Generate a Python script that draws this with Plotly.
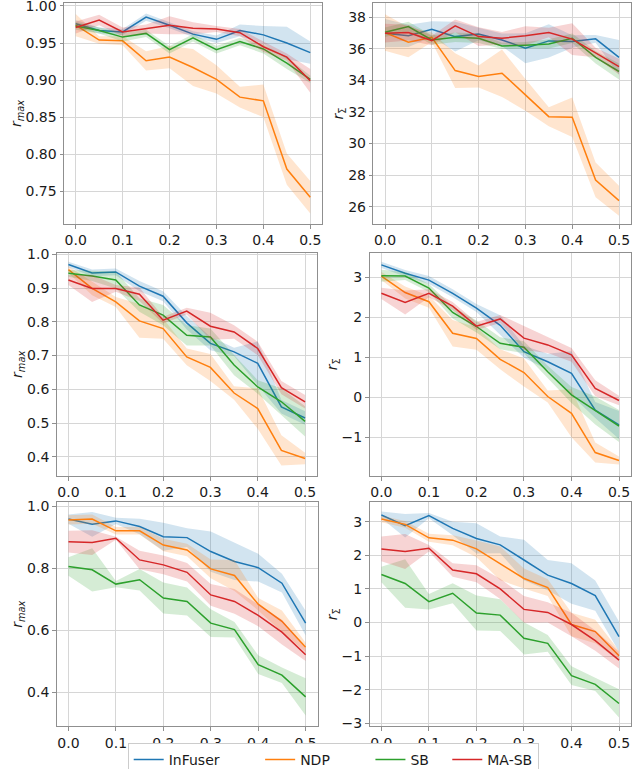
import plotly.graph_objects as go

X = [0.0, 0.05, 0.1, 0.15, 0.2, 0.25, 0.3, 0.35, 0.4, 0.45, 0.5]
SERIES = ["InFuser", "NDP", "SB", "MA-SB"]
COLORS = ["#1f77b4", "#ff7f0e", "#2ca02c", "#d62728"]
BANDS = ["rgba(31,119,180,0.2)", "rgba(255,127,14,0.2)", "rgba(44,160,44,0.2)", "rgba(214,39,40,0.2)"]
XTICKS = [0.0, 0.1, 0.2, 0.3, 0.4, 0.5]

# Panel A (row 1, left) r_max
A_INFUSER = [0.976, 0.967, 0.965, 0.985, 0.974, 0.962, 0.955, 0.967, 0.961, 0.950, 0.937]
A_INFUSER_STD = [0.005, 0.004, 0.004, 0.005, 0.004, 0.004, 0.005, 0.008, 0.012, 0.022, 0.015]
A_NDP = [0.974, 0.954, 0.953, 0.926, 0.931, 0.917, 0.901, 0.877, 0.872, 0.780, 0.742]
A_NDP_STD = [0.015, 0.005, 0.006, 0.013, 0.015, 0.025, 0.019, 0.014, 0.022, 0.021, 0.022]
A_SB = [0.973, 0.967, 0.958, 0.963, 0.941, 0.957, 0.941, 0.952, 0.942, 0.923, 0.901]
A_SB_STD = [0.005, 0.004, 0.006, 0.005, 0.005, 0.005, 0.005, 0.005, 0.006, 0.008, 0.005]
A_MASB = [0.971, 0.981, 0.965, 0.969, 0.974, 0.970, 0.969, 0.964, 0.945, 0.931, 0.899]
A_MASB_STD = [0.008, 0.007, 0.006, 0.006, 0.012, 0.008, 0.004, 0.005, 0.007, 0.005, 0.016]

# Panel B (row 1, right) r_Sigma
B_INFUSER = [36.99, 36.82, 37.24, 36.77, 36.94, 36.56, 36.04, 36.50, 36.46, 36.63, 35.46]
B_INFUSER_STD = [0.9, 0.7, 0.5, 0.95, 0.4, 0.4, 0.95, 1.05, 0.4, 0.25, 1.1]
B_NDP = [37.03, 36.42, 36.73, 34.62, 34.24, 34.45, 33.08, 31.70, 31.66, 27.69, 26.38]
B_NDP_STD = [1.15, 0.95, 0.3, 1.1, 0.7, 1.5, 1.0, 0.6, 1.25, 1.1, 0.95]
B_SB = [37.05, 37.41, 36.56, 36.73, 36.67, 36.18, 36.23, 36.31, 36.67, 35.46, 34.56]
B_SB_STD = [0.3, 0.3, 0.3, 0.3, 0.3, 0.2, 0.2, 0.3, 0.3, 0.4, 0.5]
B_MASB = [36.99, 37.03, 36.52, 37.45, 36.77, 36.67, 36.82, 37.03, 36.61, 35.76, 34.87]
B_MASB_STD = [0.6, 0.5, 0.3, 0.4, 0.6, 0.4, 0.6, 0.3, 1.0, 0.3, 0.5]

# Panel C (row 2, left) r_max
C_INFUSER = [0.970, 0.945, 0.948, 0.906, 0.876, 0.797, 0.736, 0.711, 0.677, 0.548, 0.515]
C_INFUSER_STD = [0.008, 0.01, 0.01, 0.015, 0.015, 0.02, 0.02, 0.012, 0.065, 0.02, 0.02]
C_NDP = [0.955, 0.899, 0.859, 0.803, 0.780, 0.696, 0.665, 0.589, 0.543, 0.419, 0.395]
C_NDP_STD = [0.01, 0.02, 0.015, 0.05, 0.03, 0.025, 0.04, 0.02, 0.06, 0.045, 0.017]
C_SB = [0.944, 0.936, 0.924, 0.850, 0.820, 0.760, 0.755, 0.672, 0.607, 0.563, 0.505]
C_SB_STD = [0.01, 0.015, 0.025, 0.02, 0.03, 0.03, 0.025, 0.03, 0.02, 0.04, 0.045]
C_MASB = [0.924, 0.899, 0.899, 0.882, 0.805, 0.832, 0.787, 0.770, 0.721, 0.605, 0.563]
C_MASB_STD = [0.015, 0.04, 0.01, 0.02, 0.01, 0.01, 0.04, 0.02, 0.02, 0.02, 0.02]

# Panel D (row 2, right) r_Sigma
D_INFUSER = [3.31, 3.10, 2.93, 2.60, 2.23, 1.80, 1.14, 0.89, 0.60, -0.32, -0.69]
D_INFUSER_STD = [0.08, 0.08, 0.1, 0.1, 0.1, 0.25, 0.15, 0.2, 0.55, 0.2, 0.35]
D_NDP = [3.03, 2.62, 2.39, 1.60, 1.47, 0.95, 0.62, 0.02, -0.40, -1.38, -1.58]
D_NDP_STD = [0.1, 0.15, 0.15, 0.33, 0.28, 0.25, 0.35, 0.15, 0.6, 0.25, 0.1]
D_SB = [3.04, 3.03, 2.73, 2.12, 1.77, 1.35, 1.25, 0.64, 0.06, -0.33, -0.72]
D_SB_STD = [0.15, 0.1, 0.1, 0.15, 0.15, 0.15, 0.15, 0.15, 0.2, 0.35, 0.4]
D_MASB = [2.60, 2.37, 2.60, 2.28, 1.78, 1.96, 1.48, 1.31, 1.06, 0.225, -0.08]
D_MASB_STD = [0.14, 0.3, 0.1, 0.1, 0.1, 0.1, 0.3, 0.2, 0.17, 0.2, 0.12]

# Panel E (row 3, left) r_max
E_INFUSER = [0.959, 0.942, 0.953, 0.935, 0.902, 0.899, 0.854, 0.822, 0.802, 0.752, 0.623]
E_INFUSER_STD = [0.015, 0.04, 0.01, 0.025, 0.045, 0.03, 0.065, 0.06, 0.045, 0.03, 0.04]
E_NDP = [0.956, 0.959, 0.921, 0.921, 0.875, 0.859, 0.798, 0.777, 0.684, 0.629, 0.545]
E_NDP_STD = [0.015, 0.015, 0.012, 0.012, 0.02, 0.02, 0.03, 0.05, 0.02, 0.035, 0.015]
E_SB = [0.806, 0.795, 0.749, 0.763, 0.704, 0.693, 0.623, 0.602, 0.489, 0.455, 0.385]
E_SB_STD = [0.03, 0.07, 0.01, 0.035, 0.05, 0.045, 0.045, 0.025, 0.03, 0.025, 0.06]
E_MASB = [0.886, 0.883, 0.897, 0.827, 0.811, 0.787, 0.714, 0.693, 0.648, 0.594, 0.521]
E_MASB_STD = [0.035, 0.04, 0.005, 0.03, 0.03, 0.03, 0.035, 0.04, 0.035, 0.04, 0.02]

# Panel F (row 3, right) r_Sigma
F_INFUSER = [3.20, 2.88, 3.18, 2.80, 2.50, 2.31, 1.86, 1.41, 1.16, 0.80, -0.42]
F_INFUSER_STD = [0.1, 0.35, 0.08, 0.2, 0.45, 0.25, 0.6, 0.45, 0.6, 0.45, 0.45]
F_NDP = [3.08, 2.92, 2.52, 2.45, 2.19, 1.76, 1.31, 1.04, -0.06, -0.27, -0.99]
F_NDP_STD = [0.1, 0.1, 0.12, 0.15, 0.25, 0.5, 0.3, 0.25, 0.35, 0.35, 0.15]
F_SB = [1.43, 1.16, 0.62, 0.87, 0.28, 0.22, -0.47, -0.62, -1.58, -1.84, -2.41]
F_SB_STD = [0.23, 0.72, 0.23, 0.3, 0.52, 0.47, 0.48, 0.25, 0.28, 0.2, 0.42]
F_MASB = [2.19, 2.11, 2.21, 1.56, 1.45, 1.00, 0.39, 0.30, -0.06, -0.54, -1.12]
F_MASB_STD = [0.37, 0.52, 0.1, 0.2, 0.25, 0.3, 0.4, 0.3, 0.35, 0.3, 0.25]

W, H = 641, 769
RMAX = "<i>r</i><sub><i>max</i></sub>"
RSIG = "<i>r</i><sub>Σ</sub>"
PADS = [8, 8, 3, 0]  # trailing no-break spaces between legend entries

# (means, stds, x-pixel domain, y-pixel domain, y range, y ticks, tick format, ylabel)
PANELS = [
    ([A_INFUSER, A_NDP, A_SB, A_MASB], [A_INFUSER_STD, A_NDP_STD, A_SB_STD, A_MASB_STD],
     (64, 322), (3, 224), (0.7059, 1.004), [0.75, 0.80, 0.85, 0.90, 0.95, 1.00], ".2f", RMAX),
    ([B_INFUSER, B_NDP, B_SB, B_MASB], [B_INFUSER_STD, B_NDP_STD, B_SB_STD, B_MASB_STD],
     (373.3, 630.7), (3, 224), (24.9, 38.9), [26, 28, 30, 32, 34, 36, 38], "d", RSIG),
    ([C_INFUSER, C_NDP, C_SB, C_MASB], [C_INFUSER_STD, C_NDP_STD, C_SB_STD, C_MASB_STD],
     (56.6, 316.9), (252.7, 476), (0.343, 1.005), [0.4, 0.5, 0.6, 0.7, 0.8, 0.9, 1.0], ".1f", RMAX),
    ([D_INFUSER, D_NDP, D_SB, D_MASB], [D_INFUSER_STD, D_NDP_STD, D_SB_STD, D_MASB_STD],
     (369.5, 630.9), (252.7, 476), (-1.967, 3.615), [-1, 0, 1, 2, 3], "d", RSIG),
    ([E_INFUSER, E_NDP, E_SB, E_MASB], [E_INFUSER_STD, E_NDP_STD, E_SB_STD, E_MASB_STD],
     (56.6, 317.5), (502.3, 726.3), (0.290, 1.013), [0.4, 0.6, 0.8, 1.0], ".1f", RMAX),
    ([F_INFUSER, F_NDP, F_SB, F_MASB], [F_INFUSER_STD, F_NDP_STD, F_SB_STD, F_MASB_STD],
     (369.5, 630.9), (502.3, 726.3), (-3.089, 3.577), [-3, -2, -1, 0, 1, 2, 3], "d", RSIG),
]

fig = go.Figure()
layout = {}
AX_COLOR = "#8f8f8f"
GRID = "#d6d6d6"
TXT = "#1a1a1a"
FONT = "DejaVu Sans"

for p, (means, stds, xd, yd, yr, yt, fmt, ylab) in enumerate(PANELS):
    n = p + 1
    xa = "x" if n == 1 else f"x{n}"
    ya = "y" if n == 1 else f"y{n}"
    for s in range(4):
        m = means[s]
        sd = stds[s]
        lo = [a - b for a, b in zip(m, sd)]
        hi = [a + b for a, b in zip(m, sd)]
        fig.add_trace(go.Scatter(x=X, y=lo, mode="lines", line=dict(width=0, color=BANDS[s]),
                                 xaxis=xa, yaxis=ya, showlegend=False, hoverinfo="skip"))
        fig.add_trace(go.Scatter(x=X, y=hi, mode="lines", line=dict(width=0, color=BANDS[s]),
                                 fill="tonexty", fillcolor=BANDS[s],
                                 xaxis=xa, yaxis=ya, showlegend=False, hoverinfo="skip"))
        label = SERIES[s] + "\u00a0" * PADS[s]
        fig.add_trace(go.Scatter(x=X, y=m, mode="lines", name=label,
                                 line=dict(width=1.5, color=COLORS[s]),
                                 xaxis=xa, yaxis=ya, showlegend=(p == 0)))
    xkey = "xaxis" if n == 1 else f"xaxis{n}"
    ykey = "yaxis" if n == 1 else f"yaxis{n}"
    layout[xkey] = dict(domain=[xd[0] / W, xd[1] / W], anchor=ya, range=[-0.025, 0.525],
                        tickvals=XTICKS, tickformat=".1f", showline=True, mirror=True,
                        linecolor=AX_COLOR, linewidth=1, showgrid=True, gridcolor=GRID,
                        gridwidth=1, zeroline=False, ticks="outside", ticklen=3.5,
                        tickcolor=AX_COLOR, ticklabeloverflow="allow",
                        tickfont=dict(size=14, color=TXT, family=FONT))
    layout[ykey] = dict(domain=[1 - yd[1] / H, 1 - yd[0] / H], anchor=xa, range=list(yr),
                        tickvals=yt, tickformat=fmt, showline=True, mirror=True,
                        linecolor=AX_COLOR, linewidth=1, showgrid=True, gridcolor=GRID,
                        gridwidth=1, zeroline=False, ticks="outside", ticklen=3.5,
                        tickcolor=AX_COLOR, ticklabeloverflow="allow",
                        tickfont=dict(size=14, color=TXT, family=FONT),
                        title=dict(text=ylab, font=dict(size=14, color=TXT, family=FONT),
                                   standoff=0))

fig.update_layout(
    width=W, height=H,
    margin=dict(l=0, r=0, t=0, b=0, autoexpand=False),
    paper_bgcolor="white", plot_bgcolor="white",
    font=dict(family=FONT, color=TXT),
    legend=dict(orientation="h", x=(130.7 - 3) / W, xanchor="left", y=1 - 743.0 / H,
                yanchor="top", traceorder="normal",
                bgcolor="white", bordercolor="#cccccc", borderwidth=1,
                font=dict(size=14, color=TXT, family=FONT)),
    **layout,
)

fig.write_html("out.html")
